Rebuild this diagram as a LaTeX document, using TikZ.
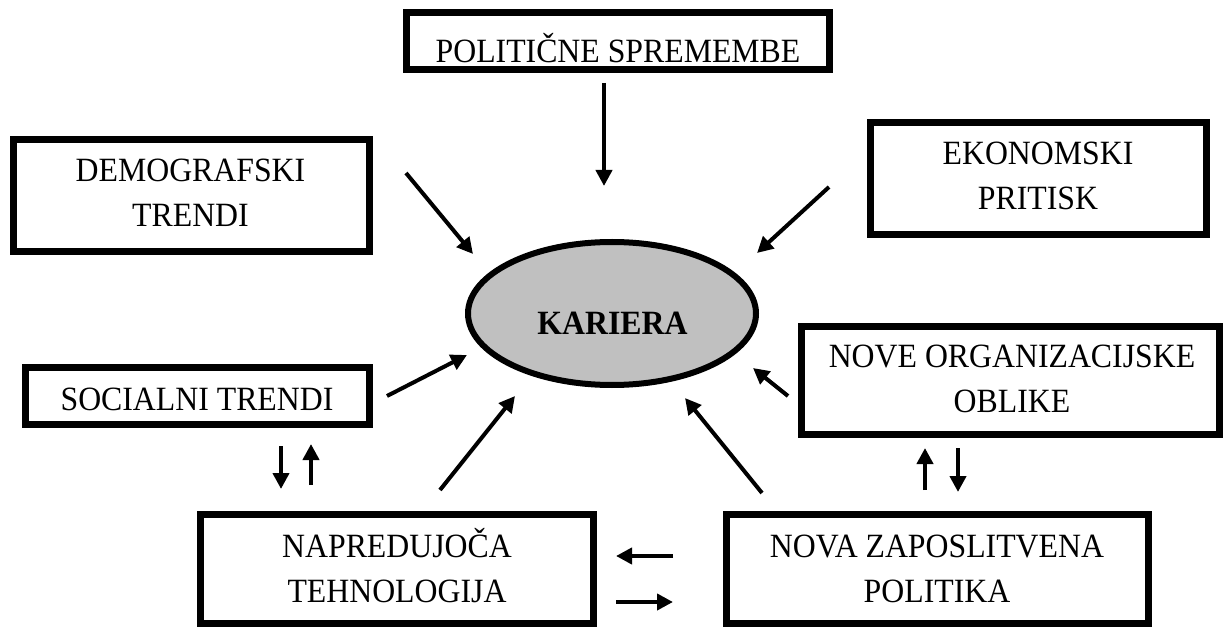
\documentclass[tikz,border=0pt]{standalone}
\usepackage{fontspec}
\setmainfont{Liberation Serif}[FakeStretch=0.935]
\usetikzlibrary{arrows.meta,shapes.geometric}
\definecolor{ovalgray}{HTML}{C0C0C0}
\begin{document}
\begin{tikzpicture}[x=1pt,y=-1pt,
  box/.style={draw,rectangle,line width=7pt,inner sep=0pt},
  txt/.style={anchor=base,inner sep=0pt,font=\fontsize{34}{45}\selectfont},
  arr/.style={line width=4pt,-{Triangle[length=16pt,width=16pt]}}]
\useasboundingbox (0,0) rectangle (1224,628);

% boxes
\node[box,minimum width=423pt,minimum height=57pt] (pol) at (618,41) {};
\node[txt] (polt) at (618,63) {POLITIČNE SPREMEMBE};

\node[box,minimum width=356pt,minimum height=112pt] (dem) at (191.5,195.5) {};
\node[txt] (demt) at (190.5,182) {\begin{tabular}[t]{@{}c@{}}DEMOGRAFSKI\\TRENDI\end{tabular}};

\node[box,minimum width=336pt,minimum height=112pt] (eko) at (1038.5,178.5) {};
\node[txt] (ekot) at (1038,165) {\begin{tabular}[t]{@{}c@{}}EKONOMSKI\\PRITISK\end{tabular}};

\node[box,minimum width=344pt,minimum height=57pt] (soc) at (197.5,396) {};
\node[txt] (soct) at (197,410) {SOCIALNI TRENDI};

\node[box,minimum width=418pt,minimum height=108pt] (org) at (1010.5,380.5) {};
\node[txt] (orgt) at (1012,367) {\begin{tabular}[t]{@{}c@{}}NOVE ORGANIZACIJSKE\\OBLIKE\end{tabular}};

\node[box,minimum width=393pt,minimum height=109pt] (nap) at (397,569) {};
\node[txt] (napt) at (397,557) {\begin{tabular}[t]{@{}c@{}}NAPREDUJOČA\\TEHNOLOGIJA\end{tabular}};

\node[box,minimum width=422pt,minimum height=109pt] (zap) at (937.5,569) {};
\node[txt] (zapt) at (937,557) {\begin{tabular}[t]{@{}c@{}}NOVA ZAPOSLITVENA\\POLITIKA\end{tabular}};

% ellipse
\node[draw,ellipse,line width=6pt,fill=ovalgray,inner sep=0pt,minimum width=288pt,minimum height=143pt] (ker) at (612,313.5) {};
\node[txt,font=\fontsize{34}{45}\selectfont\bfseries] (kert) at (612.5,335) {KARIERA};

% arrow end points
\coordinate (p1) at (604,83);  \coordinate (q1) at (604,186);
\coordinate (p2) at (406,173); \coordinate (q2) at (473,254);
\coordinate (p3) at (829,187); \coordinate (q3) at (757,253);
\coordinate (p4) at (387,396); \coordinate (q4) at (467,355);
\coordinate (p5) at (788,396); \coordinate (q5) at (753,368);
\coordinate (p6) at (440,490); \coordinate (q6) at (515,396);
\coordinate (p7) at (762,493); \coordinate (q7) at (685,398);
\coordinate (p8) at (281,446); \coordinate (q8) at (281,489);
\coordinate (p9) at (311,485); \coordinate (q9) at (311,444);
\coordinate (p10) at (925,490); \coordinate (q10) at (925,448);
\coordinate (p11) at (958,448); \coordinate (q11) at (958,492);
\coordinate (p12) at (673,556); \coordinate (q12) at (616,556);
\coordinate (p13) at (616,602); \coordinate (q13) at (673,602);

\foreach \i in {1,...,13} \draw[arr] (p\i) -- (q\i);
\end{tikzpicture}
\end{document}
